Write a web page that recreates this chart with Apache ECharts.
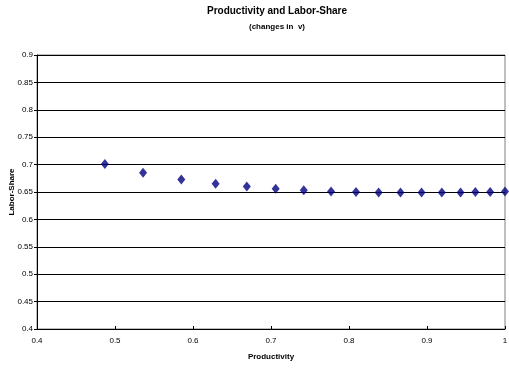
<!DOCTYPE html>
<html>
<head>
<meta charset="utf-8">
<script src="https://cdn.jsdelivr.net/npm/echarts@6/dist/echarts.min.js"></script>
<style>html,body{margin:0;padding:0;background:#fff;}#c{width:509px;height:369px;}</style>
</head>
<body>
<div id="c"></div>
<script>
var productivity = [0.487, 0.536, 0.585, 0.629, 0.669, 0.706, 0.742, 0.777, 0.809, 0.838, 0.866, 0.893, 0.919, 0.943, 0.962, 0.981, 1.0];
var laborShare   = [0.701, 0.685, 0.673, 0.665, 0.660, 0.656, 0.653, 0.651, 0.650, 0.649, 0.649, 0.649, 0.649, 0.649, 0.650, 0.650, 0.651];
var titleText = 'Productivity and Labor-Share';
var subtitleText = '(changes in  v)';
var xName = 'Productivity';
var yName = 'Labor-Share';

var pts = productivity.map(function(x, i){ return [x, laborShare[i]]; });
var chart = echarts.init(document.getElementById('c'));
var font = 'Liberation Sans, Arial, sans-serif';
chart.setOption({
  animation: false,
  title: {
    text: titleText,
    subtext: subtitleText,
    left: 272, top: 1, textAlign: 'center',
    itemGap: 7,
    textStyle: {fontFamily: font, fontSize: 10, fontWeight: 'bold', color: '#000'},
    subtextStyle: {fontFamily: font, fontSize: 8, fontWeight: 'bold', color: '#000'}
  },
  grid: {left: 37, right: 4, top: 55, bottom: 40, containLabel: false, outerBoundsMode: 'none',
    show: true, borderColor: '#808080', borderWidth: 1},
  xAxis: {
    type: 'value', min: 0.4, max: 1, interval: 0.1,
    name: xName, nameLocation: 'middle', nameGap: 24, nameMoveOverlap: false,
    nameTextStyle: {fontFamily: font, fontSize: 8, fontWeight: 'bold', color: '#000'},
    axisLine: {lineStyle: {color: '#000', width: 1}},
    axisTick: {show: true, inside: true, length: 3, lineStyle: {color: '#000'}},
    axisLabel: {fontFamily: font, fontSize: 8, color: '#000', margin: 8,
      formatter: function(v){ return String(Math.round(v*10)/10); }},
    splitLine: {show: false}
  },
  yAxis: {
    type: 'value', min: 0.4, max: 0.9, interval: 0.05,
    name: yName, nameLocation: 'middle', nameGap: 21, nameRotate: 90, nameMoveOverlap: false,
    nameTextStyle: {fontFamily: font, fontSize: 8, fontWeight: 'bold', color: '#000'},
    axisLine: {lineStyle: {color: '#000', width: 1}},
    axisTick: {show: true, length: 3, lineStyle: {color: '#000'}},
    axisLabel: {fontFamily: font, fontSize: 8, color: '#000', margin: 4,
      formatter: function(v){ return String(Math.round(v*100)/100); }},
    splitLine: {show: true, lineStyle: {color: '#000', width: 1}}
  },
  series: [{
    type: 'scatter',
    data: pts,
    symbol: 'diamond',
    symbolSize: [8, 10],
    itemStyle: {color: '#000080'}
  }]
});
</script>
</body>
</html>
